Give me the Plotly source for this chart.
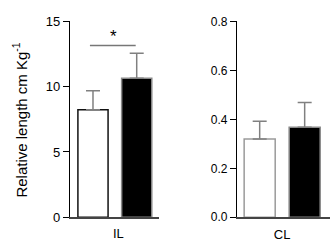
import plotly.graph_objects as go

groups = ["Control", "Treated"]
il_values = [8.24, 10.64]
il_errors = [1.44, 1.92]
cl_values = [0.320, 0.368]
cl_errors = [0.0725, 0.101]
il_ticks = [0, 5, 10, 15]
cl_ticks = [0.0, 0.2, 0.4, 0.6, 0.8]

W, H = 331, 245
pos = list(range(len(groups)))
fill = ["white", "black"]

fig = go.Figure()
fig.add_trace(go.Bar(
    x=pos, y=il_values, width=0.69,
    marker=dict(color=fill, line=dict(color=["#111111", "#8a8a8a"], width=1.5)),
    error_y=dict(type="data", symmetric=False, array=il_errors, arrayminus=[0, 0],
                 color="#808080", thickness=1.5, width=7),
    xaxis="x", yaxis="y", showlegend=False, hoverinfo="skip"))
fig.add_trace(go.Bar(
    x=pos, y=cl_values, width=0.69,
    marker=dict(color=fill, line=dict(color=["#9a9a9a", "#8a8a8a"], width=1.5)),
    error_y=dict(type="data", symmetric=False, array=cl_errors, arrayminus=[0, 0],
                 color="#808080", thickness=1.5, width=7),
    xaxis="x2", yaxis="y2", showlegend=False, hoverinfo="skip"))

font = "Liberation Sans, Arial, sans-serif"
ydom = [1 - 224 / H, 1 - 15.3 / H]

fig.update_layout(
    width=W, height=H, margin=dict(l=0, r=0, t=0, b=0),
    paper_bgcolor="white", plot_bgcolor="white",
    font=dict(family=font, color="black"),
    xaxis=dict(domain=[70 / W, 159 / W], range=[-0.526, 1.51],
               tickvals=[0.58], ticktext=["IL"], ticks="outside", ticklen=4,
               tickcolor="rgba(0,0,0,0)", tickfont=dict(size=13),
               showline=True, linecolor="#444", linewidth=1.5, showgrid=False,
               zeroline=False),
    yaxis=dict(domain=ydom, range=[0, 15], tickvals=il_ticks,
               ticks="outside", ticklen=6, tickcolor="black", tickwidth=1,
               tickfont=dict(size=13), showline=True, linecolor="black", linewidth=1.2,
               showgrid=False, zeroline=False, anchor="x"),
    xaxis2=dict(domain=[237 / W, 330 / W], range=[-0.504, 1.563],
                tickvals=[0.5], ticktext=["CL"], ticks="outside", ticklen=5,
                tickcolor="rgba(0,0,0,0)", tickfont=dict(size=13),
                showline=True, linecolor="#444", linewidth=1.5, showgrid=False,
                zeroline=False, anchor="y2"),
    yaxis2=dict(domain=ydom, range=[0, 0.8], tickvals=cl_ticks, tickformat=".1f",
                ticks="outside", ticklen=6, tickcolor="black", tickwidth=1,
                tickfont=dict(size=12), showline=True, linecolor="black", linewidth=1.2,
                showgrid=False, zeroline=False, anchor="x2"),
    shapes=[dict(type="line", xref="x", yref="y", x0=-0.07, x1=0.977, y0=13.15, y1=13.15,
                 line=dict(color="#777777", width=1.5))],
    annotations=[
        dict(text="*", x=0.46, y=13.15, xref="x", yref="y", showarrow=False,
             yanchor="bottom", font=dict(size=17), yshift=-2),
        dict(text="Relative length cm Kg<sup>-1</sup>", x=20 / W, y=1 - 121 / H,
             xref="paper", yref="paper", showarrow=False, textangle=-90,
             font=dict(size=15), xanchor="center", yanchor="middle"),
    ],
)

fig.write_html("out.html", config={"displayModeBar": False, "staticPlot": True},
               post_script="document.body.style.margin='0px';document.body.style.overflow='hidden';")
